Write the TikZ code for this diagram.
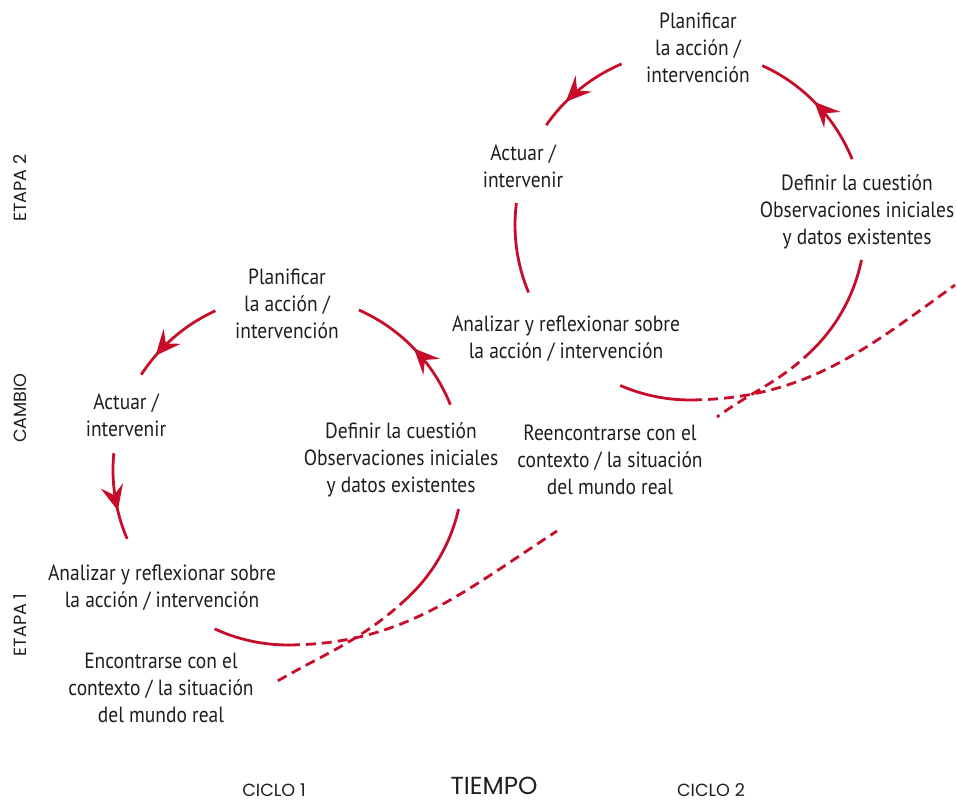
\documentclass[tikz,border=0pt]{standalone}
\usepackage{fontspec}
\setmainfont[FakeStretch=0.885]{PT Sans}
\newfontfamily\capsfont{Poppins}
\usetikzlibrary{arrows.meta,decorations.markings}
\definecolor{cyclered}{RGB}{198,14,42}
\definecolor{inktext}{RGB}{30,30,30}
\tikzset{
  stage/.style={font=\fontsize{16.5}{20}\selectfont, text=inktext, align=center, inner sep=0pt},
  axislabel/.style={font=\capsfont\fontsize{13.2}{15}\selectfont, text=inktext, inner sep=0pt},
  cycleline/.style={draw=cyclered, line width=2.1pt},
  spiral/.style={cycleline, dash pattern=on 7.5pt off 4.5pt},
  arrowat/.style={postaction={decorate}, decoration={markings,
      mark=at position #1 with {\arrow[cyclered]{Stealth[length=19pt,width=17pt,inset=7pt]}}}}
}
\begin{document}
\begin{tikzpicture}[x=0.75pt, y=0.75pt]
\useasboundingbox (0,0) rectangle (957,802);

% circle centres of the two cycles
\coordinate (c1) at (288,332);
\coordinate (c2) at (690,577);
% free ends of the dashed spiral lines
\coordinate (d1) at (557,271);
\coordinate (e1) at (274,119);
\coordinate (d2) at (955,517);
\coordinate (e2) at (717,385);

% cycle 1
\node[stage] (plan1) at (287,498) {Planificar\\la acción /\\intervención};
\node[stage] (act1) at (126,387) {Actuar /\\intervenir};
\node[stage] (def1) at (401,342) {Definir la cuestión\\Observaciones iniciales\\y datos existentes};
\node[stage] (ana1) at (162,214) {Analizar y reflexionar sobre\\la acción / intervención};
\node[stage] (enc1) at (161,114) {Encontrarse con el\\contexto / la situación\\del mundo real};

% cycle 2
\node[stage] (plan2) at (698,754) {Planificar\\la acción /\\intervención};
\node[stage] (act2) at (523,636) {Actuar /\\intervenir};
\node[stage] (def2) at (857,590) {Definir la cuestión\\Observaciones iniciales\\y datos existentes};
\node[stage] (ana2) at (566,463) {Analizar y reflexionar sobre\\la acción / intervención};
\node[stage] (enc2) at (610,342) {Reencontrarse con el\\contexto / la situación\\del mundo real};

% axes
\node[axislabel, rotate=90] (etapa2) at (20,614) {ETAPA 2};
\node[axislabel, rotate=90] (cambio) at (20,394) {CAMBIO};
\node[axislabel, rotate=90] (etapa1) at (20,177) {ETAPA 1};
\node[axislabel] (ciclo1) at (274,12) {CICLO 1};
\node[axislabel, font=\capsfont\fontsize{18.5}{20}\selectfont] (tiempo) at (494,16) {TIEMPO};
\node[axislabel] (ciclo2) at (711,12) {CICLO 2};

% arcs of cycle 1
\draw[cycleline, arrowat=0.76] ([shift={(114.5:175)}]c1) arc[start angle=114.5, end angle=147, radius=175];
\draw[cycleline, arrowat=0.66] ([shift={(174.5:175)}]c1) arc[start angle=174.5, end angle=203.2, radius=175];
\draw[cycleline] ([shift={(245.2:175)}]c1) arc[start angle=245.2, end angle=270.6, radius=175] coordinate (b1);
\draw[spiral] (b1) to[out=0.6, in=213] (d1);
\draw[cycleline, arrowat=0.5] ([shift={(21.9:175)}]c1) arc[start angle=21.9, end angle=66.1, radius=175];
\draw[cycleline] ([shift={(-12.9:175)}]c1) arc[start angle=-12.9, end angle=-47.1, radius=175] coordinate (f1);
\draw[spiral] (f1) to[out=-137, in=30] (e1);

% arcs of cycle 2
\draw[cycleline, arrowat=0.69] ([shift={(113:175)}]c2) arc[start angle=113, end angle=145.2, radius=175];
\draw[cycleline] ([shift={(172.8:175)}]c2) arc[start angle=172.8, end angle=202.7, radius=175];
\draw[cycleline] ([shift={(246.5:175)}]c2) arc[start angle=246.5, end angle=270.7, radius=175] coordinate (b2);
\draw[spiral] (b2) to[out=0.7, in=216] (d2);
\draw[cycleline, arrowat=0.52] ([shift={(22.1:175)}]c2) arc[start angle=22.1, end angle=65.6, radius=175];
\draw[cycleline] ([shift={(-11.5:175)}]c2) arc[start angle=-11.5, end angle=-46.2, radius=175] coordinate (f2);
\draw[spiral] (f2) to[out=-136, in=36] (e2);
\end{tikzpicture}
\end{document}
